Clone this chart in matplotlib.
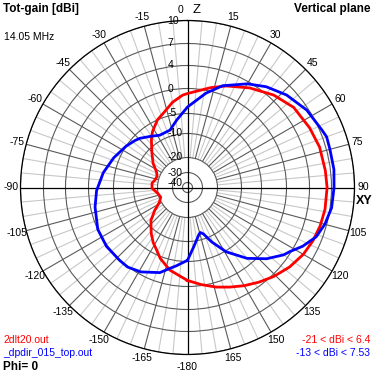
import matplotlib
matplotlib.use("Agg")
import matplotlib.pyplot as plt
import numpy as np

plt.rcParams['font.family'] = ['Liberation Sans', 'DejaVu Sans']

# 2dlt20.out - elevation angle from zenith (deg), total gain (dBi)
red_ang = [-180, -168, -159, -154, -148, -142, -137, -132, -125, -118, -110, -102,
           -91, -83, -77, -70, -63, -55, -46, -37, -32, -24, -17, -10, -3, 0,
           13, 21, 32, 43, 53, 64, 73, 83, 90, 99, 106, 113, 120, 128, 136, 143,
           150, 157, 164, 172, 180]
red_db = [-1.2, -2.9, -4.6, -6.0, -7.3, -8.8, -10.2, -12.0, -15.8, -19.2, -21.0, -20.0,
          -17.7, -17.6, -18.6, -19.0, -18.0, -15.0, -11.9, -8.5, -7.0, -5.0, -4.0, -2.5, -1.3, -1.0,
          0.6, 1.7, 3.2, 4.6, 5.5, 5.9, 6.2, 6.3, 6.4, 6.35, 6.2, 5.95, 5.6, 5.0, 4.25, 3.4,
          2.5, 1.6, 0.8, -0.2, -1.2]

# _dpdir_015_top.out
blue_ang = [-180, -172, -168, -162, -151, -143, -137, -126, -115, -102, -92, -80,
            -68, -56, -48, -44, -36, -28, -17, -9, 0, 11, 19, 30, 38, 47, 57, 67,
            70, 75, 83, 90, 98, 105, 111, 117, 122, 125, 132, 140, 149, 156, 161,
            164, 166, 174, 180]
blue_db = [-5.3, -4.0, -3.3, -1.9, -0.5, 0.1, 0.1, 0.2, 0.0, -0.9, -1.6, -2.7,
           -3.9, -5.0, -5.9, -6.4, -7.7, -8.7, -8.5, -6.4, -3.7, -0.6, 1.5, 3.6, 4.8, 5.85, 6.75, 7.3,
           7.53, 7.45, 7.46, 7.33, 7.2, 6.75, 6.15, 5.0, 3.8, 3.2, 1.3, -1.3, -4.8, -8.6, -12.0,
           -13.0, -12.5, -8.6, -5.3]

ring_db = [-40, -30, -20, -10, -5, 0, 4, 7, 10]
ring_lbl = ["-40", "-30", "-20", "-10", "-5", "0", "4", "7", "10"]
ang_ticks = [a for a in range(-165, 181, 15) if a != 0]

# ARRL-like log scale, calibrated on the rings
cal_db = [-60, -40, -30, -20, -10, -5, 0, 4, 7, 10]
cal_r = np.array([0, 5, 15, 30, 54, 74, 99, 122, 144, 167]) / 167.0


def fwd(v):
    return np.interp(v, cal_db, cal_r)


def inv(r):
    return np.interp(r, cal_r, cal_db)


W = 374.0
fig = plt.figure(figsize=(3.74, 3.74), dpi=100)
R = 167.0
cx, cy = 187.5, 187.5
ax = fig.add_axes([(cx - R) / W, (W - cy - R) / W, 2 * R / W, 2 * R / W], projection='polar')
ax.set_theta_zero_location('N')
ax.set_theta_direction(-1)
ax.set_rscale('function', functions=(fwd, inv))
ax.set_rlim(-60, 10)
ax.set_xticks([])
ax.set_yticks(ring_db)
ax.set_yticklabels([])
ax.tick_params(axis='y', length=0)
ax.yaxis.grid(True, color='#5a5a5a', lw=0.8, zorder=0.5)
ax.xaxis.grid(False)
ax.spines['polar'].set_color('black')
ax.spines['polar'].set_linewidth(0.9)
ax.set_axisbelow(True)

# spokes
for a in range(0, 360, 5):
    if a % 90 == 0:
        continue
    t = np.deg2rad(a)
    if a % 15 == 0:
        ax.plot([t, t], [-20, 10], color='#5a5a5a', lw=0.8, zorder=0.6)
    else:
        ax.plot([t, t], [-20, 10], color='#c8c8c8', lw=0.8, zorder=0.4)
for a in (0, 90, 180, 270):
    t = np.deg2rad(a)
    ax.plot([t, t], [-60, 10], color='black', lw=0.9, zorder=0.7)

ax.plot(np.deg2rad(red_ang), red_db, color='#ff0000', lw=2.0, zorder=3)
ax.plot(np.deg2rad(blue_ang), blue_db, color='#0000ff', lw=2.0, zorder=3)

# ring labels
for db, s in zip(ring_db, ring_lbl):
    ax.annotate(s, xy=(0, db), xytext=(-14.5, 0), textcoords='offset points',
                ha='left', va='center', fontsize=7.5, zorder=4)

# angle labels
k = 1.055
for a in ang_ticks:
    t = np.deg2rad(a)
    kk = 1.075 if a == 180 else k
    s = "-180" if a == 180 else str(a)
    ax.text(0.5 + 0.5 * kk * np.sin(t), 0.5 + 0.5 * kk * np.cos(t), s,
            transform=ax.transAxes, ha='center', va='center', fontsize=7.5)


def px(x, y):
    return x / W, 1 - y / W


fig.text(*px(180, 10), "0", ha='center', va='center', fontsize=7.5)
fig.text(*px(197, 10), "Z", ha='center', va='center', fontsize=9.5)
fig.text(*px(364, 201), "XY", ha='center', va='center', fontsize=9, fontweight='bold')

fig.text(*px(3, 3), "Tot-gain [dBi]", ha='left', va='top', fontsize=8.5, fontweight='bold')
fig.text(*px(370, 3), "Vertical plane", ha='right', va='top', fontsize=8.5, fontweight='bold')
fig.text(*px(4, 37), "14.05 MHz", ha='left', va='center', fontsize=7.5)
fig.text(*px(3, 340), "2dlt20.out", ha='left', va='center', fontsize=7.5, color='#ff0000')
fig.text(*px(3, 353), "_dpdir_015_top.out", ha='left', va='center', fontsize=7.5, color='#0000ff')
fig.text(*px(3, 367), "Phi= 0", ha='left', va='center', fontsize=8.5, fontweight='bold')
fig.text(*px(370, 340), "-21 < dBi < 6.4", ha='right', va='center', fontsize=7.5, color='#ff0000')
fig.text(*px(370, 353), "-13 < dBi < 7.53", ha='right', va='center', fontsize=7.5, color='#0000ff')

fig.savefig("out.png", dpi=100, facecolor='white')
